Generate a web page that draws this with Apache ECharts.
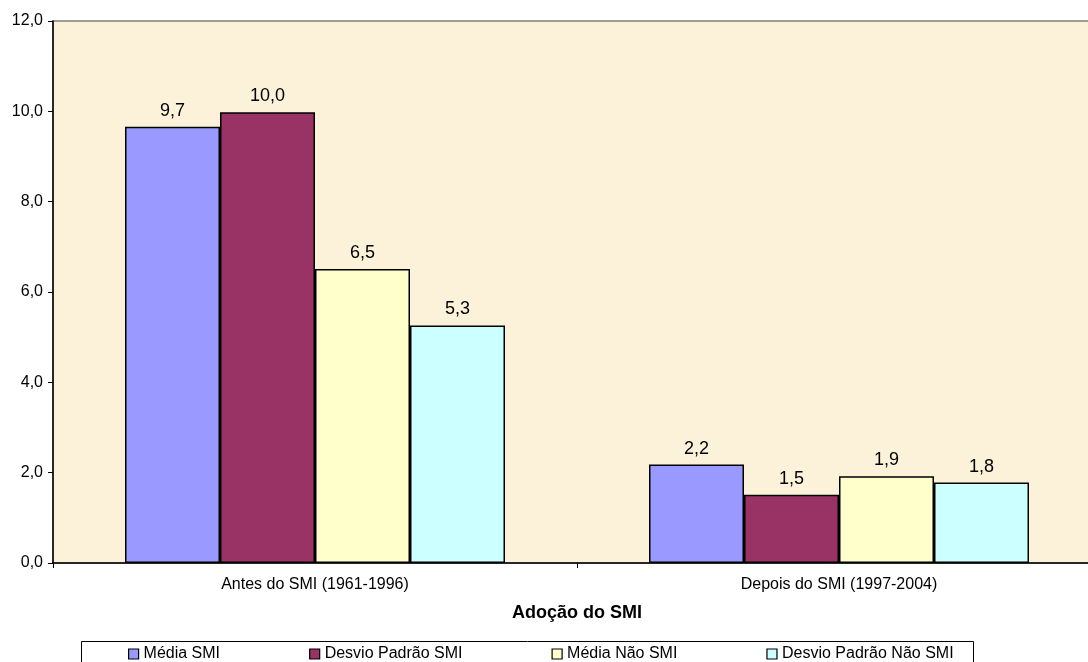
<!DOCTYPE html>
<html>
<head>
<meta charset="utf-8">
<script src="https://cdn.jsdelivr.net/npm/echarts@6/dist/echarts.min.js"></script>
<style>
  html, body { margin: 0; padding: 0; background: #fff; }
  #chart { width: 1088px; height: 662px; }
</style>
</head>
<body>
<div id="chart"></div>
<script>
const categories = ['Antes do SMI (1961-1996)', 'Depois do SMI (1997-2004)'];
const seriesNames = ['Média SMI', 'Desvio Padrão SMI', 'Média Não SMI', 'Desvio Padrão Não SMI'];
const mediaSmi = [9.66, 2.18];
const desvioSmi = [9.98, 1.51];
const mediaNaoSmi = [6.51, 1.92];
const desvioNaoSmi = [5.26, 1.78];
const colors = ['#9999FF', '#993366', '#FFFFCC', '#CCFFFF'];

const FONT = '"Liberation Sans", Arial, sans-serif';
const fmt = v => v.toFixed(1).replace('.', ',');

const chart = echarts.init(document.getElementById('chart'));

const makeSeries = (name, data, color) => ({
  name: name,
  type: 'bar',
  data: data,
  barWidth: 95,
  barGap: '0%',
  itemStyle: { color: color, borderColor: '#000', borderWidth: 1.5 },
  label: {
    show: true,
    position: 'top',
    distance: 7,
    color: '#000',
    fontFamily: FONT,
    fontSize: 18,
    formatter: p => fmt(p.value)
  },
  emphasis: { disabled: true }
});

chart.setOption({
  animation: false,
  textStyle: { fontFamily: FONT },
  grid: {
    left: 53,
    top: 21,
    width: 1048,
    bottom: 99,
    outerBoundsMode: 'none',
    containLabel: false,
    show: true,
    backgroundColor: '#FCF2D9',
    borderColor: '#808080',
    borderWidth: 1.5
  },
  legend: {
    data: seriesNames,
    left: 128,
    top: 646,
    padding: 0,
    itemWidth: 10,
    itemHeight: 10,
    itemGap: 89,
    icon: 'rect',
    itemStyle: { borderColor: '#000', borderWidth: 1.2 },
    textStyle: { fontFamily: FONT, fontSize: 16, color: '#000' }
  },
  graphic: [{
    type: 'rect',
    shape: { x: 81.5, y: 641.5, width: 892, height: 40 },
    style: { fill: null, stroke: '#000', lineWidth: 1 },
    silent: true
  }],
  xAxis: {
    type: 'category',
    data: categories,
    name: 'Adoção do SMI',
    nameLocation: 'middle',
    nameGap: 41,
    nameTextStyle: { fontFamily: FONT, fontSize: 18, fontWeight: 'bold', color: '#000' },
    axisLine: { lineStyle: { color: '#000', width: 1.5 } },
    axisTick: { show: true, length: 5, lineStyle: { color: '#000' } },
    axisLabel: { margin: 14, fontFamily: FONT, fontSize: 16, color: '#000' }
  },
  yAxis: {
    type: 'value',
    min: 0,
    max: 12,
    interval: 2,
    splitLine: { show: false },
    axisLine: { show: true, lineStyle: { color: '#000', width: 1.5 } },
    axisTick: { show: true, length: 5, lineStyle: { color: '#000' } },
    axisLabel: { margin: 10, fontFamily: FONT, fontSize: 16, color: '#000', formatter: v => fmt(v) }
  },
  series: [
    makeSeries(seriesNames[0], mediaSmi, colors[0]),
    makeSeries(seriesNames[1], desvioSmi, colors[1]),
    makeSeries(seriesNames[2], mediaNaoSmi, colors[2]),
    makeSeries(seriesNames[3], desvioNaoSmi, colors[3])
  ]
});
</script>
</body>
</html>
